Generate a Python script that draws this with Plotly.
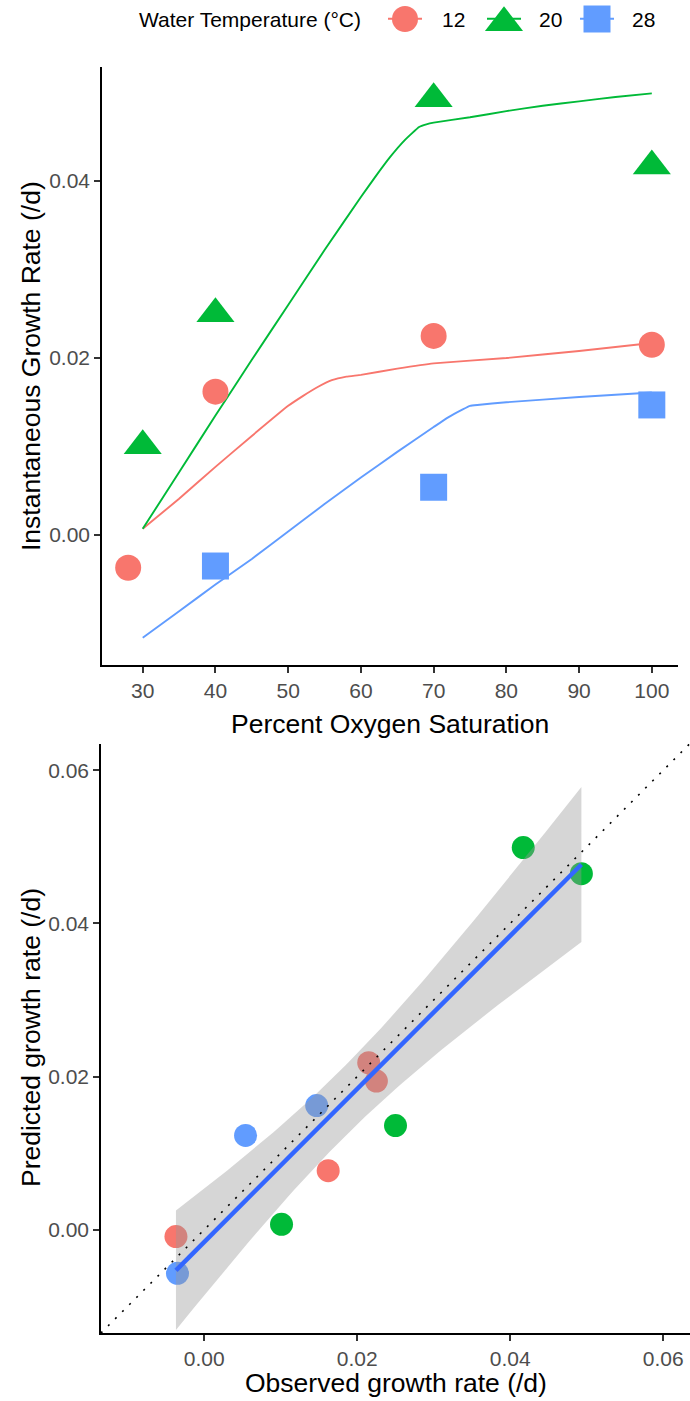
import numpy as np
import plotly.graph_objects as go

W, H = 690, 1401
FONT = "Liberation Sans, Arial, sans-serif"

# ---- data -------------------------------------------------------------
temps = ["12", "20", "28"]
colors = {"12": "#F8766D", "20": "#00BA38", "28": "#619CFF"}
symbols = {"12": "circle", "20": "triangle-up", "28": "square"}
msize = {"12": 26, "20": 33, "28": 27}

# observed instantaneous growth rate at each oxygen saturation
obs_o2 = {
    "12": [28, 40, 70, 100],
    "20": [30, 40, 70, 100],
    "28": [40, 70, 100],
}
obs_growth = {
    "12": [-0.0037, 0.0162, 0.0225, 0.0215],
    "20": [0.0101, 0.0250, 0.0493, 0.0417],
    "28": [-0.0035, 0.0054, 0.0147],
}

# model growth curves
curve_o2 = {
    "12": [30, 35, 40, 45, 50, 52, 54, 56, 58, 60, 65, 70, 80, 90, 100],
    "20": [30, 35, 40, 45, 50, 55, 60, 62, 64, 66, 68, 69, 70, 75, 80, 85,
           90, 95, 100],
    "28": [30, 35, 40, 45, 50, 55, 60, 65, 70, 72, 74, 75, 76, 80, 90, 100],
}
curve_growth = {
    "12": [0.0007, 0.0041, 0.0077, 0.0112, 0.0146, 0.0157, 0.0167, 0.0175,
           0.0179, 0.0181, 0.0188, 0.0194, 0.0200, 0.0208, 0.0217],
    "20": [0.0007, 0.0071, 0.0135, 0.0198, 0.0260, 0.0322, 0.0382, 0.0405,
           0.0427, 0.0446, 0.0461, 0.0464, 0.0466, 0.0472, 0.0479, 0.0485,
           0.0490, 0.0495, 0.0499],
    "28": [-0.0116, -0.0086, -0.0056, -0.0027, 0.0004, 0.0035, 0.0065,
           0.0094, 0.0122, 0.0133, 0.0142, 0.0146, 0.0147, 0.0150, 0.0156,
           0.0161],
}

# model predictions at the observed conditions
pred_growth = {
    "12": [-0.0009, 0.0077, 0.0194, 0.0218],
    "20": [0.0007, 0.0136, 0.0465, 0.0499],
    "28": [-0.0057, 0.0123, 0.0162],
}

top_xticks = [30, 40, 50, 60, 70, 80, 90, 100]
top_yticks = [0.00, 0.02, 0.04]
bot_ticks = [0.00, 0.02, 0.04, 0.06]
T_975_DF9 = 2.262  # two-sided 95% t quantile, 9 residual df


def px_x(p):
    return p / W


def px_y(p):
    return 1 - p / H


fig = go.Figure()

# ---- top panel: growth vs oxygen ---------------------------------------
for t in temps:
    fig.add_trace(go.Scatter(
        x=curve_o2[t], y=curve_growth[t], mode="lines",
        line=dict(color=colors[t], width=1.9, shape="spline", smoothing=0.3),
        xaxis="x", yaxis="y", hoverinfo="skip", showlegend=False,
    ))
for t in temps:
    fig.add_trace(go.Scatter(
        x=obs_o2[t], y=obs_growth[t], mode="markers",
        marker=dict(color=colors[t], symbol=symbols[t], size=msize[t],
                    line=dict(width=0)),
        xaxis="x", yaxis="y", cliponaxis=False, showlegend=False,
    ))

# ---- bottom panel: observed vs predicted -------------------------------
for t in temps:
    fig.add_trace(go.Scatter(
        x=obs_growth[t], y=pred_growth[t], mode="markers",
        marker=dict(color=colors[t], symbol="circle", size=23,
                    line=dict(width=0)),
        xaxis="x2", yaxis="y2", showlegend=False,
    ))

# linear fit with 95% confidence band
ox = np.array(sum((obs_growth[t] for t in temps), []))
py = np.array(sum((pred_growth[t] for t in temps), []))
n = len(ox)
slope, intercept = np.polyfit(ox, py, 1)
resid = py - (intercept + slope * ox)
s = np.sqrt(np.sum(resid ** 2) / (n - 2))
sxx = np.sum((ox - ox.mean()) ** 2)
xs = np.linspace(ox.min(), ox.max(), 80)
fit = intercept + slope * xs
se = s * np.sqrt(1.0 / n + (xs - ox.mean()) ** 2 / sxx)
upper = fit + T_975_DF9 * se
lower = fit - T_975_DF9 * se

fig.add_trace(go.Scatter(
    x=np.concatenate([xs, xs[::-1]]), y=np.concatenate([upper, lower[::-1]]),
    fill="toself", fillcolor="rgba(153,153,153,0.4)", mode="lines",
    line=dict(width=0), xaxis="x2", yaxis="y2", hoverinfo="skip",
    showlegend=False,
))
fig.add_trace(go.Scatter(
    x=xs, y=fit, mode="lines", line=dict(color="#3366FF", width=4.5),
    xaxis="x2", yaxis="y2", hoverinfo="skip", showlegend=False,
))

bot_range = [-0.0135, 0.0635]
fig.add_trace(go.Scatter(
    x=bot_range, y=bot_range, mode="lines",
    line=dict(color="black", width=1.6, dash="2px,8px"),
    xaxis="x2", yaxis="y2", hoverinfo="skip", showlegend=False,
))

# ---- legend strip drawn on its own pixel-scaled axes ------------------
key_x = {"12": 405, "20": 504, "28": 597}
key_y = {"12": 19, "20": 22.8, "28": 19}
label_x = {"12": 440, "20": 537, "28": 630}
for t in temps:
    fig.add_trace(go.Scatter(
        x=[key_x[t] - 17, key_x[t] + 17], y=[18.8, 18.8], mode="lines",
        line=dict(color=colors[t], width=1.9),
        xaxis="x3", yaxis="y3", hoverinfo="skip", showlegend=False,
    ))
    fig.add_trace(go.Scatter(
        x=[key_x[t]], y=[key_y[t]], mode="markers",
        marker=dict(color=colors[t], symbol=symbols[t], size=msize[t],
                    line=dict(width=0)),
        xaxis="x3", yaxis="y3", cliponaxis=False, hoverinfo="skip",
        showlegend=False,
    ))

axis_style = dict(
    showline=True, linecolor="black", linewidth=1.6,
    ticks="outside", ticklen=6, tickwidth=1.6, tickcolor="#333333",
    showgrid=False, zeroline=False, automargin=False,
    tickfont=dict(family=FONT, size=21, color="#4D4D4D"),
)

fig.update_layout(
    width=W, height=H,
    margin=dict(l=0, r=0, t=0, b=0),
    paper_bgcolor="white", plot_bgcolor="white",
    showlegend=False,
    font=dict(family=FONT, color="black"),
    xaxis=dict(domain=[px_x(102), px_x(678)], range=[24.4, 103.6],
               tickvals=top_xticks, ticktext=[str(v) for v in top_xticks],
               anchor="y", **axis_style),
    yaxis=dict(domain=[px_y(664.7), px_y(66.5)], range=[-0.01465, 0.05294],
               tickvals=top_yticks, ticktext=[f"{v:.2f}" for v in top_yticks],
               anchor="x", **axis_style),
    xaxis2=dict(domain=[px_x(101), 1.0], range=bot_range,
                tickvals=bot_ticks, ticktext=[f"{v:.2f}" for v in bot_ticks],
                anchor="y2", **axis_style),
    yaxis2=dict(domain=[px_y(1333), px_y(743.5)], range=bot_range,
                tickvals=bot_ticks, ticktext=[f"{v:.2f}" for v in bot_ticks],
                anchor="x2", **axis_style),
    xaxis3=dict(domain=[0, 1], range=[0, W], visible=False, anchor="y3",
                fixedrange=True),
    yaxis3=dict(domain=[px_y(40), 1], range=[40, 0], visible=False,
                anchor="x3", fixedrange=True),
)

title_font = dict(family=FONT, size=26.5, color="black")
legend_font = dict(family=FONT, size=21, color="black")
annotations = [
    dict(text="Percent Oxygen Saturation", x=px_x(390), y=px_y(724),
         font=title_font),
    dict(text="Instantaneous Growth Rate (/d)", x=px_x(31), y=px_y(366),
         textangle=-90, font=title_font),
    dict(text="Observed growth rate (/d)", x=px_x(396), y=px_y(1383),
         font=title_font),
    dict(text="Predicted growth rate (/d)", x=px_x(31), y=px_y(1038),
         textangle=-90, font=title_font),
    dict(text="Water Temperature (°C)", x=px_x(137), y=px_y(19),
         xanchor="left", font=legend_font),
]
for t in temps:
    annotations.append(dict(text=t, x=px_x(label_x[t]), y=px_y(19),
                            xanchor="left", font=legend_font))
for a in annotations:
    a.setdefault("xanchor", "center")
    a.update(xref="paper", yref="paper", yanchor="middle", showarrow=False)
fig.update_layout(annotations=annotations)

fig.write_html("out.html")
